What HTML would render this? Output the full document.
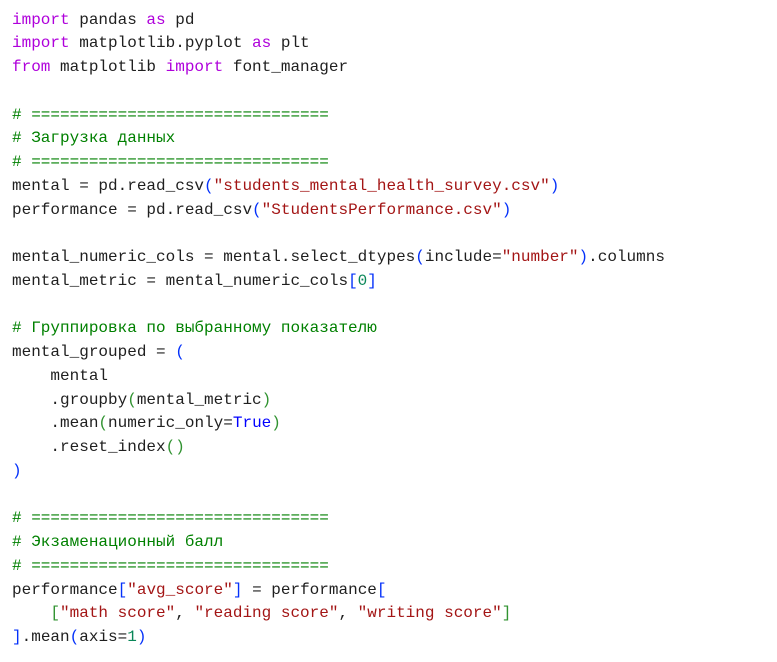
<!DOCTYPE html>
<html><head><meta charset="utf-8"><style>
html,body{margin:0;padding:0;background:#fff;width:777px;height:662px;overflow:hidden}
pre{margin:0;position:absolute;left:12px;top:8.5px;font-family:"Liberation Mono","DejaVu Sans Mono",monospace;font-size:16px;line-height:23.75px;color:#1f1f1f}
.k{color:#af00db}.c{color:#008000}.s{color:#a31515}.n{color:#098658}.b{color:#0431fa}.g{color:#319331}.t{color:#0000ff}
</style></head><body>
<pre><span class="k">import</span> pandas <span class="k">as</span> pd
<span class="k">import</span> matplotlib.pyplot <span class="k">as</span> plt
<span class="k">from</span> matplotlib <span class="k">import</span> font_manager

<span class="c"># ===============================</span>
<span class="c"># Загрузка данных</span>
<span class="c"># ===============================</span>
mental = pd.read_csv<span class="b">(</span><span class="s">"students_mental_health_survey.csv"</span><span class="b">)</span>
performance = pd.read_csv<span class="b">(</span><span class="s">"StudentsPerformance.csv"</span><span class="b">)</span>

mental_numeric_cols = mental.select_dtypes<span class="b">(</span>include=<span class="s">"number"</span><span class="b">)</span>.columns
mental_metric = mental_numeric_cols<span class="b">[</span><span class="n">0</span><span class="b">]</span>

<span class="c"># Группировка по выбранному показателю</span>
mental_grouped = <span class="b">(</span>
    mental
    .groupby<span class="g">(</span>mental_metric<span class="g">)</span>
    .mean<span class="g">(</span>numeric_only=<span class="t">True</span><span class="g">)</span>
    .reset_index<span class="g">()</span>
<span class="b">)</span>

<span class="c"># ===============================</span>
<span class="c"># Экзаменационный балл</span>
<span class="c"># ===============================</span>
performance<span class="b">[</span><span class="s">"avg_score"</span><span class="b">]</span> = performance<span class="b">[</span>
    <span class="g">[</span><span class="s">"math score"</span>, <span class="s">"reading score"</span>, <span class="s">"writing score"</span><span class="g">]</span>
<span class="b">]</span>.mean<span class="b">(</span>axis=<span class="n">1</span><span class="b">)</span></pre>
</body></html>
